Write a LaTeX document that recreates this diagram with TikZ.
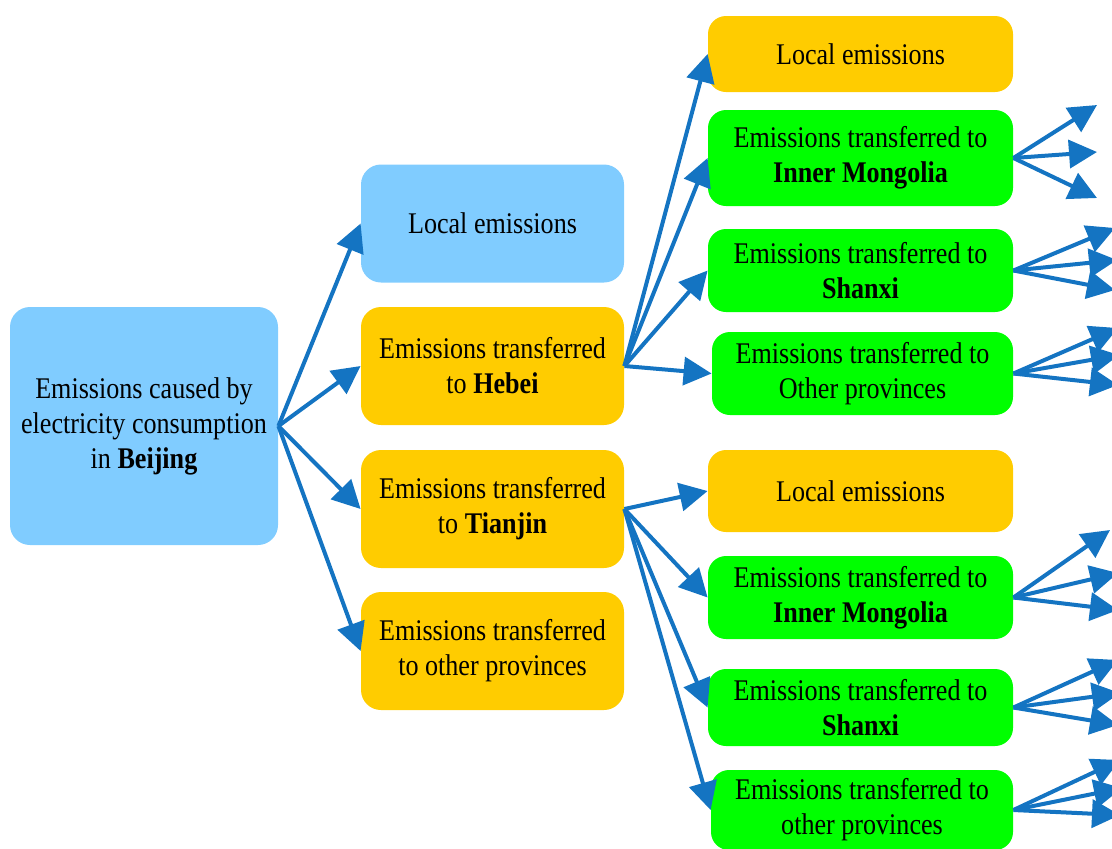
\documentclass[tikz,border=0pt]{standalone}
\usepackage{fontspec}
\setmainfont{Liberation Serif}[FakeStretch=0.87]
\usetikzlibrary{arrows.meta}
\definecolor{skyblue}{RGB}{128,204,255}
\definecolor{amber}{RGB}{255,204,0}
\definecolor{brightgreen}{RGB}{0,255,0}
\definecolor{linkblue}{RGB}{20,116,194}
\tikzset{
  box/.style={rounded corners=10pt, align=center, inner sep=0pt, font=\fontsize{15}{17.5}\selectfont},
  midbox/.style={box, minimum width=131.5pt, minimum height=59pt},
  farbox/.style={box, rounded corners=9pt, minimum width=152.5pt},
  link/.style={draw=linkblue, line width=2pt, -{Triangle[length=14pt,width=14pt]}},
}
\begin{document}
\begin{tikzpicture}[x=0.5pt, y=-0.5pt]
\useasboundingbox (0,0) rectangle (1112,848);
\clip (0,0) rectangle (1112,848);
% first column
\node[box, fill=skyblue, minimum width=134pt, minimum height=119pt] (bj) at (144,426){Emissions caused by\\electricity consumption\\in \textbf{Beijing}};
% second column
\node[midbox, fill=skyblue] (bjloc) at (492.5,223.5){Local emissions};
\node[midbox, fill=amber] (hb) at (492.5,366){Emissions transferred\\to \textbf{Hebei}};
\node[midbox, fill=amber] (tj) at (492.5,509){Emissions transferred\\to \textbf{Tianjin}};
\node[midbox, fill=amber] (bjoth) at (492.5,651){Emissions transferred\\to other provinces};
\draw[link](bj.east) -- (bjloc.west);
\draw[link](bj.east) -- (hb.west);
\draw[link](bj.east) -- (tj.west);
\draw[link](bj.east) -- (bjoth.west);
% third column, Hebei
\node[farbox, fill=amber, minimum height=38pt] (hbloc) at (860.5,54){Local emissions};
\node[farbox, fill=brightgreen, minimum height=48pt] (hbim) at (860.5,158){Emissions transferred to\\\textbf{Inner Mongolia}};
\node[farbox, fill=brightgreen, minimum height=41.5pt] (hbsx) at (860.5,270.5){Emissions transferred to\\\textbf{Shanxi}};
\node[farbox, fill=brightgreen, minimum height=41.5pt, minimum width=150.5pt] (hboth) at (862.5,373.5){Emissions transferred to\\Other provinces};
\draw[link](hb.east) -- (hbloc.west);
\draw[link](hb.east) -- (hbim.west);
\draw[link](hb.east) -- (hbsx.west);
\draw[link](hb.east) -- (hboth.west);
% third column, Tianjin
\node[farbox, fill=amber, minimum height=41pt] (tjloc) at (860.5,491){Local emissions};
\node[farbox, fill=brightgreen, minimum height=41.5pt] (tjim) at (860.5,597.5){Emissions transferred to\\\textbf{Inner Mongolia}};
\node[farbox, fill=brightgreen, minimum height=38.5pt] (tjsx) at (860.5,707.5){Emissions transferred to\\\textbf{Shanxi}};
\node[farbox, fill=brightgreen, minimum height=40pt, minimum width=151pt] (tjoth) at (862,810){Emissions transferred to\\other provinces};
\draw[link](tj.east) -- (tjloc.west);
\draw[link](tj.east) -- (tjim.west);
\draw[link](tj.east) -- (tjsx.west);
\draw[link](tj.east) -- (tjoth.west);
% loose ends
\coordinate (hbim1) at (1097,105);
\coordinate (hbim2) at (1097,152);
\coordinate (hbim3) at (1097,198);
\coordinate (hbsx1) at (1115,228);
\coordinate (hbsx2) at (1117,260);
\coordinate (hbsx3) at (1115,290);
\coordinate (hboth1) at (1118,328);
\coordinate (hboth2) at (1119,355);
\coordinate (hboth3) at (1118,385);
\coordinate (tjim1) at (1110,530);
\coordinate (tjim2) at (1118,573);
\coordinate (tjim3) at (1118,610);
\coordinate (tjsx1) at (1118,660);
\coordinate (tjsx2) at (1120,693);
\coordinate (tjsx3) at (1118,725);
\coordinate (tjoth1) at (1120,760);
\coordinate (tjoth2) at (1122,788);
\coordinate (tjoth3) at (1120,815);
\foreach \src in {hbim,hbsx,hboth,tjim,tjsx,tjoth}{
  \foreach \k in {1,2,3}{
    \draw[link](\src.east) -- (\src\k);
  }
}
\end{tikzpicture}
\end{document}
